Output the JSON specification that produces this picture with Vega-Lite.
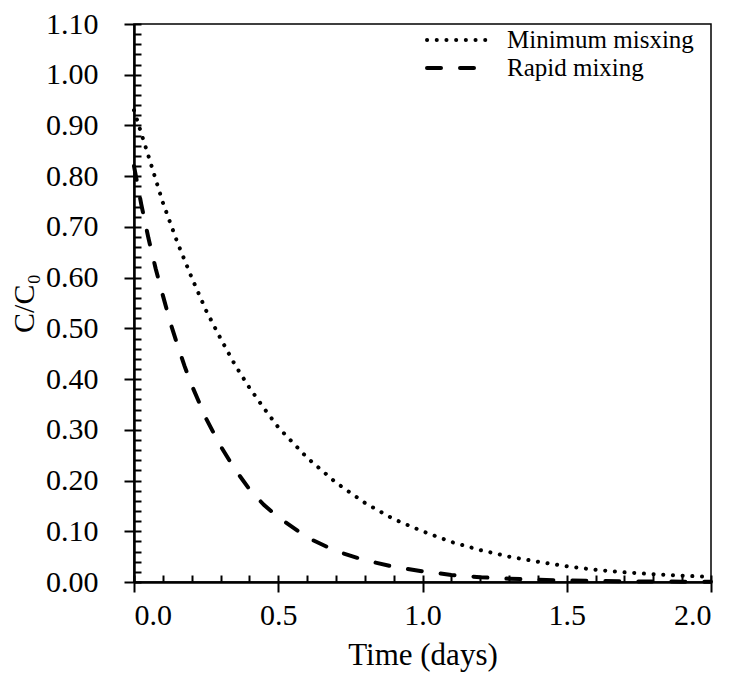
{
  "$schema": "https://vega.github.io/schema/vega-lite/v6.json",
  "width": 577,
  "height": 558,
  "autosize": {"type": "none"},
  "padding": {"left": 134, "top": 24, "right": 25, "bottom": 91},
  "data": {
    "values": [
      {"t": 0.0, "v": 0.93, "s": "Minimum misxing"},
      {"t": 0.05, "v": 0.84, "s": "Minimum misxing"},
      {"t": 0.1, "v": 0.748, "s": "Minimum misxing"},
      {"t": 0.15, "v": 0.67, "s": "Minimum misxing"},
      {"t": 0.2, "v": 0.6, "s": "Minimum misxing"},
      {"t": 0.25, "v": 0.535, "s": "Minimum misxing"},
      {"t": 0.3, "v": 0.48, "s": "Minimum misxing"},
      {"t": 0.35, "v": 0.428, "s": "Minimum misxing"},
      {"t": 0.4, "v": 0.383, "s": "Minimum misxing"},
      {"t": 0.45, "v": 0.343, "s": "Minimum misxing"},
      {"t": 0.5, "v": 0.305, "s": "Minimum misxing"},
      {"t": 0.6, "v": 0.245, "s": "Minimum misxing"},
      {"t": 0.7, "v": 0.196, "s": "Minimum misxing"},
      {"t": 0.8, "v": 0.156, "s": "Minimum misxing"},
      {"t": 0.9, "v": 0.124, "s": "Minimum misxing"},
      {"t": 1.0, "v": 0.1, "s": "Minimum misxing"},
      {"t": 1.1, "v": 0.079, "s": "Minimum misxing"},
      {"t": 1.2, "v": 0.063, "s": "Minimum misxing"},
      {"t": 1.3, "v": 0.05, "s": "Minimum misxing"},
      {"t": 1.4, "v": 0.04, "s": "Minimum misxing"},
      {"t": 1.5, "v": 0.031, "s": "Minimum misxing"},
      {"t": 1.6, "v": 0.024, "s": "Minimum misxing"},
      {"t": 1.7, "v": 0.019, "s": "Minimum misxing"},
      {"t": 1.8, "v": 0.0155, "s": "Minimum misxing"},
      {"t": 1.9, "v": 0.0125, "s": "Minimum misxing"},
      {"t": 2.0, "v": 0.01, "s": "Minimum misxing"},
      {"t": 0.0, "v": 0.82, "s": "Rapid mixing"},
      {"t": 0.025, "v": 0.745, "s": "Rapid mixing"},
      {"t": 0.05, "v": 0.678, "s": "Rapid mixing"},
      {"t": 0.075, "v": 0.618, "s": "Rapid mixing"},
      {"t": 0.1, "v": 0.565, "s": "Rapid mixing"},
      {"t": 0.125, "v": 0.513, "s": "Rapid mixing"},
      {"t": 0.15, "v": 0.468, "s": "Rapid mixing"},
      {"t": 0.175, "v": 0.426, "s": "Rapid mixing"},
      {"t": 0.2, "v": 0.388, "s": "Rapid mixing"},
      {"t": 0.25, "v": 0.322, "s": "Rapid mixing"},
      {"t": 0.3, "v": 0.268, "s": "Rapid mixing"},
      {"t": 0.35, "v": 0.222, "s": "Rapid mixing"},
      {"t": 0.4, "v": 0.183, "s": "Rapid mixing"},
      {"t": 0.45, "v": 0.152, "s": "Rapid mixing"},
      {"t": 0.5, "v": 0.128, "s": "Rapid mixing"},
      {"t": 0.6, "v": 0.088, "s": "Rapid mixing"},
      {"t": 0.7, "v": 0.061, "s": "Rapid mixing"},
      {"t": 0.8, "v": 0.043, "s": "Rapid mixing"},
      {"t": 0.9, "v": 0.03, "s": "Rapid mixing"},
      {"t": 1.0, "v": 0.021, "s": "Rapid mixing"},
      {"t": 1.1, "v": 0.014, "s": "Rapid mixing"},
      {"t": 1.2, "v": 0.0095, "s": "Rapid mixing"},
      {"t": 1.3, "v": 0.0065, "s": "Rapid mixing"},
      {"t": 1.4, "v": 0.0045, "s": "Rapid mixing"},
      {"t": 1.5, "v": 0.003, "s": "Rapid mixing"},
      {"t": 1.6, "v": 0.002, "s": "Rapid mixing"},
      {"t": 1.7, "v": 0.0014, "s": "Rapid mixing"},
      {"t": 1.8, "v": 0.001, "s": "Rapid mixing"},
      {"t": 1.9, "v": 0.0007, "s": "Rapid mixing"},
      {"t": 2.0, "v": 0.0005, "s": "Rapid mixing"}
    ]
  },
  "layer": [
    {
      "mark": {"type": "line", "strokeOpacity": 0},
      "encoding": {
        "x": {
          "field": "t", "type": "quantitative",
          "scale": {"domain": [0, 2], "nice": false, "zero": false},
          "axis": {
            "orient": "bottom", "title": null, "labels": false, "domain": false, "grid": false,
            "values": [0, 0.1, 0.2, 0.3, 0.4, 0.5, 0.6, 0.7, 0.8, 0.9, 1, 1.1, 1.2, 1.3, 1.4, 1.5, 1.6, 1.7, 1.8, 1.9, 2],
            "tickSize": -7, "tickWidth": 2, "tickColor": "black"
          }
        },
        "y": {
          "field": "v", "type": "quantitative",
          "scale": {"domain": [0, 1.1], "nice": false},
          "axis": {
            "orient": "left", "title": null, "labels": false, "domain": false, "grid": false,
            "values": [0, 0.02, 0.04, 0.06, 0.08, 0.1, 0.12, 0.14, 0.16, 0.18, 0.2, 0.22, 0.24, 0.26, 0.28, 0.3, 0.32, 0.34, 0.36, 0.38, 0.4, 0.42, 0.44, 0.46, 0.48, 0.5, 0.52, 0.54, 0.56, 0.58, 0.6, 0.62, 0.64, 0.66, 0.68, 0.7, 0.72, 0.74, 0.76, 0.78, 0.8, 0.82, 0.84, 0.86, 0.88, 0.9, 0.92, 0.94, 0.96, 0.98, 1, 1.02, 1.04, 1.06, 1.08, 1.1],
            "tickSize": -7, "tickWidth": 2, "tickColor": "black"
          }
        },
        "detail": {"field": "s"}
      }
    },
    {
      "mark": {"type": "line", "color": "black", "strokeWidth": 4},
      "encoding": {
        "x": {
          "field": "t", "type": "quantitative",
          "axis": {
            "orient": "bottom", "title": "Time (days)", "grid": false,
            "values": [0, 0.5, 1, 1.5, 2], "format": ".1f",
            "tickSize": 10, "tickWidth": 2, "tickColor": "black",
            "domainColor": "black", "domainWidth": 2.5,
            "labelFontSize": 30, "labelPadding": 8, "labelColor": "black",
            "titleFontSize": 31, "titleFontWeight": "normal", "titleColor": "black", "titlePadding": 10
          }
        },
        "y": {
          "field": "v", "type": "quantitative",
          "axis": {
            "orient": "left", "title": "C/C₀", "grid": false,
            "values": [0, 0.1, 0.2, 0.3, 0.4, 0.5, 0.6, 0.7, 0.8, 0.9, 1, 1.1], "format": ".2f",
            "tickSize": 10, "tickWidth": 2, "tickColor": "black",
            "domainColor": "black", "domainWidth": 2.5,
            "labelFontSize": 30, "labelPadding": 26, "labelColor": "black",
            "titleFontSize": 30, "titleFontWeight": "normal", "titleColor": "black", "titlePadding": 6
          }
        },
        "strokeDash": {
          "field": "s", "type": "nominal",
          "scale": {"domain": ["Minimum misxing", "Rapid mixing"], "range": [[0.1, 9.6], [14, 19]]},
          "legend": {
            "title": null, "orient": "none", "legendX": 313, "legendY": 3,
            "symbolType": "M-3,0H3", "symbolSize": 484, "symbolStrokeWidth": 4, "symbolStrokeColor": "black",
            "labelFontSize": 25, "labelOffset": 34, "labelColor": "black", "labelLimit": 400,
            "rowPadding": 2, "padding": 0,
            "encode": {"symbols": {"update": {"strokeCap": {"value": "round"}}}}
          }
        }
      }
    }
  ],
  "resolve": {"axis": {"x": "independent", "y": "independent"}},
  "config": {
    "font": "Liberation Serif",
    "view": {"stroke": "black", "strokeWidth": 1.5},
    "line": {"strokeCap": "round"}
  }
}
